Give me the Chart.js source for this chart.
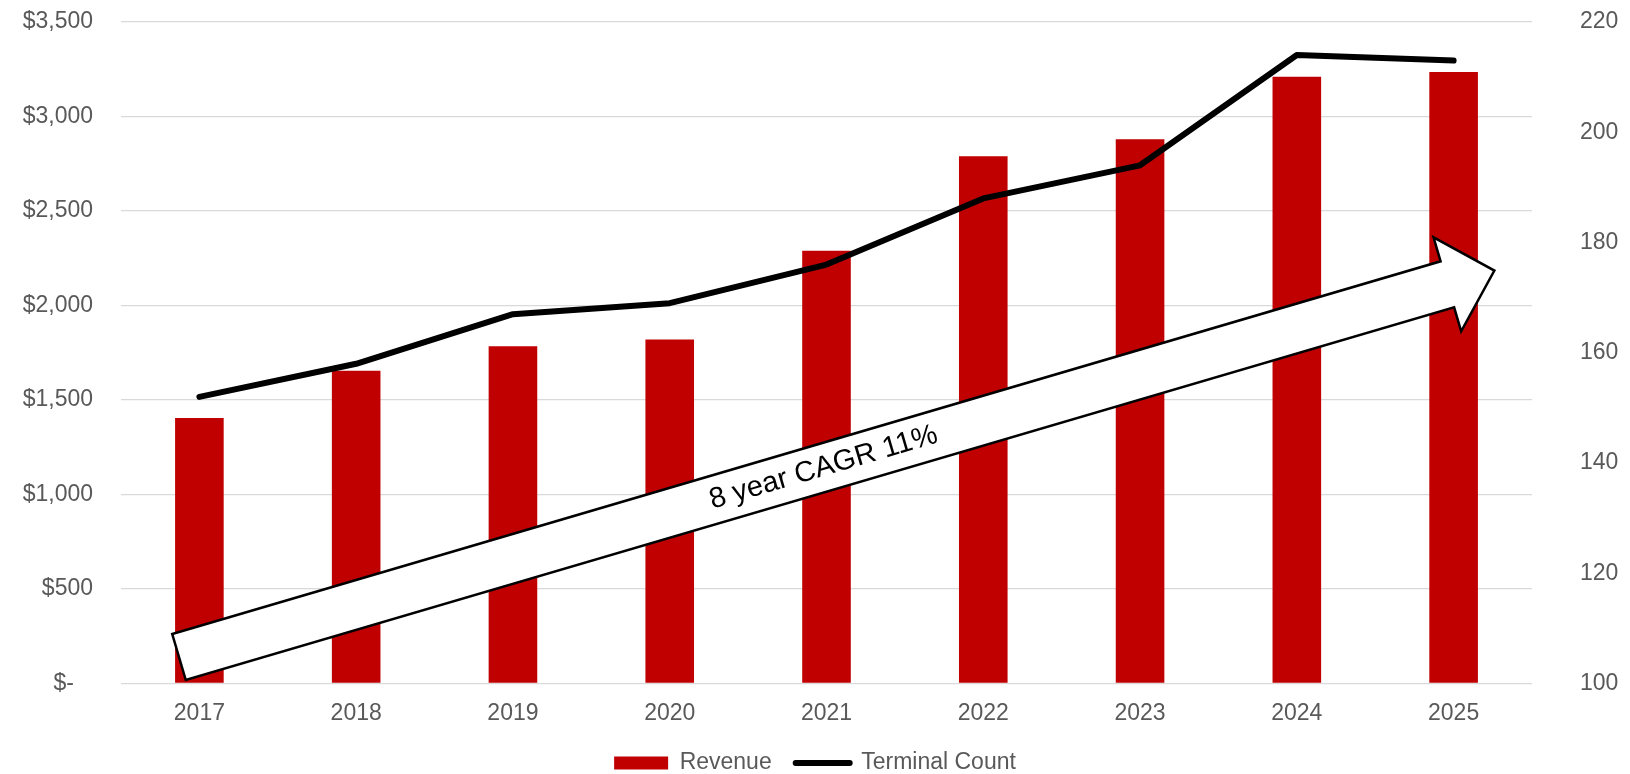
<!DOCTYPE html>
<html>
<head>
<meta charset="utf-8">
<script src="https://cdn.jsdelivr.net/npm/chart.js@4.4.1/dist/chart.umd.min.js"></script>
<style>
  html, body { margin: 0; padding: 0; background: #fff; overflow: hidden; }
  #wrap { width: 1630px; height: 774px; }
  canvas { display: block; }
</style>
</head>
<body>
<div id="wrap"><canvas id="myChart" width="1630" height="774"></canvas></div>
<script>
  // data
  const years = ['2017', '2018', '2019', '2020', '2021', '2022', '2023', '2024', '2025'];
  const revenue = [1405, 1655, 1785, 1820, 2290, 2790, 2880, 3210, 3235];
  const terminalCount = [152, 158, 167, 169, 176, 188, 194, 214, 213];
  const revenueTicks = [0, 500, 1000, 1500, 2000, 2500, 3000, 3500];
  const countTicks = [100, 120, 140, 160, 180, 200, 220];

  // CAGR arrow, in data units (x = category index, y = revenue)
  const cagrLabel = '8 year CAGR 11%';
  const cagrFrom = { x: -0.13, y: 140 };
  const cagrTo = { x: 8.26, y: 2185 };

  const FONT = '"Liberation Sans", Arial, sans-serif';
  const GREY = '#595959';
  Chart.defaults.font.family = FONT;
  Chart.defaults.font.size = 23;
  Chart.defaults.color = GREY;

  const cagrArrow = {
    id: 'cagrArrow',
    afterDatasetsDraw(chart) {
      const { ctx, scales: { x, y } } = chart;
      const x0 = x.getPixelForValue(cagrFrom.x), y0 = y.getPixelForValue(cagrFrom.y);
      const x1 = x.getPixelForValue(cagrTo.x), y1 = y.getPixelForValue(cagrTo.y);
      const len = Math.hypot(x1 - x0, y1 - y0);
      const shaft = 24, head = 49, headLen = 49;
      ctx.save();
      ctx.translate(x0, y0);
      ctx.rotate(Math.atan2(y1 - y0, x1 - x0));
      ctx.beginPath();
      ctx.moveTo(0, -shaft);
      ctx.lineTo(len - headLen, -shaft);
      ctx.lineTo(len - headLen, -head);
      ctx.lineTo(len, 0);
      ctx.lineTo(len - headLen, head);
      ctx.lineTo(len - headLen, shaft);
      ctx.lineTo(0, shaft);
      ctx.closePath();
      ctx.fillStyle = '#fff';
      ctx.fill();
      ctx.lineWidth = 2.5;
      ctx.strokeStyle = '#000';
      ctx.stroke();
      ctx.font = '29px ' + FONT;
      ctx.fillStyle = '#000';
      ctx.textAlign = 'center';
      ctx.textBaseline = 'middle';
      ctx.fillText(cagrLabel, len * 0.49, 0);
      ctx.restore();
    }
  };

  // keep tick padding from inflating the plot's top/bottom margin
  const trimPad = axis => { axis.paddingTop = 14; axis.paddingBottom = 14; };

  const ctx = document.getElementById('myChart').getContext('2d');

  const myChart = new Chart(ctx, {
    type: 'bar',
    data: {
      labels: years,
      datasets: [{
        label: 'Revenue',
        data: revenue,
        backgroundColor: '#C00000',
        barPercentage: 0.31,
        categoryPercentage: 1,
        yAxisID: 'y',
        order: 1
      }, {
        type: 'line',
        label: 'Terminal Count',
        data: terminalCount,
        borderColor: '#000',
        backgroundColor: '#000',
        borderWidth: 6,
        borderCapStyle: 'round',
        borderJoinStyle: 'round',
        pointRadius: 0,
        tension: 0,
        yAxisID: 'y1',
        order: 0
      }]
    },
    options: {
      responsive: false,
      animation: false,
      devicePixelRatio: 1,
      layout: { padding: { left: 0, right: 0, top: 22, bottom: -10.5 } },
      plugins: {
        tooltip: { enabled: false },
        legend: {
          position: 'bottom',
          labels: {
            usePointStyle: true,
            pointStyleWidth: 54,
            boxHeight: 13,
            padding: 24,
            color: GREY,
            font: { size: 23 },
            generateLabels(chart) {
              const items = Chart.defaults.plugins.legend.labels.generateLabels(chart);
              items.forEach(it => {
                const ds = chart.data.datasets[it.datasetIndex];
                it.pointStyle = ds.type === 'line' ? 'line' : 'rect';
                it.lineWidth = ds.type === 'line' ? 6 : 0;
                it.lineCap = 'round';
              });
              return items.sort((a, b) => a.datasetIndex - b.datasetIndex);
            }
          }
        }
      },
      scales: {
        x: {
          grid: { display: false, drawTicks: false },
          border: { display: false },
          ticks: { padding: 16 },
          afterFit: axis => { axis.height = 44; }
        },
        y: {
          position: 'left',
          min: revenueTicks[0],
          max: revenueTicks[revenueTicks.length - 1],
          afterBuildTicks: axis => { axis.ticks = revenueTicks.map(v => ({ value: v })); },
          afterFit: axis => { axis.width = 121; trimPad(axis); },
          grid: { color: '#d9d9d9', lineWidth: 1.3, drawTicks: false },
          border: { display: false },
          ticks: {
            padding: 28,
            callback: v => v === 0 ? '$-   ' : '$' + v.toLocaleString('en-US')
          }
        },
        y1: {
          position: 'right',
          min: countTicks[0],
          max: countTicks[countTicks.length - 1],
          afterBuildTicks: axis => { axis.ticks = countTicks.map(v => ({ value: v })); },
          afterFit: axis => { axis.width = 98; trimPad(axis); },
          grid: { display: false, drawTicks: false },
          border: { display: false },
          ticks: { padding: 48 }
        }
      }
    },
    plugins: [cagrArrow]
  });
</script>
</body>
</html>
